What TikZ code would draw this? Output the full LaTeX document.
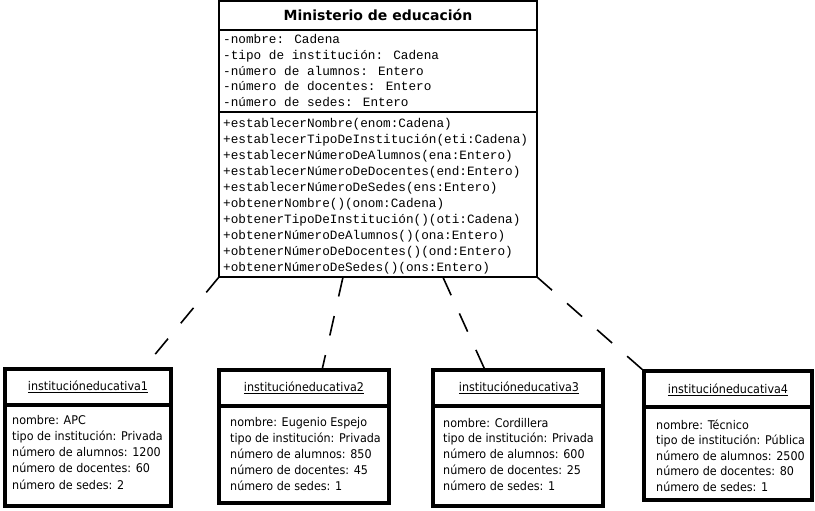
\documentclass[tikz,border=0pt]{standalone}
\usepackage{fontspec}
\setmainfont{DejaVu Sans}
\newfontfamily\monof{Liberation Mono}
\newfontfamily\objf[FakeStretch=0.93]{DejaVu Sans}
\usetikzlibrary{calc}
\begin{document}
\begin{tikzpicture}[x=1pt,y=-1pt,
  classbox/.style={draw, line width=2pt, inner sep=0pt, outer sep=0pt, anchor=north west},
  objbox/.style={draw, line width=4pt, inner sep=0pt, outer sep=0pt, anchor=north west},
  sepline/.style={line width=2pt},
  objsep/.style={line width=4pt},
  monotext/.style={font=\monof\fontsize{12.7}{15}\selectfont, anchor=base west, inner sep=0pt},
  objtext/.style={font=\objf\fontsize{12}{14}\selectfont, anchor=base west, inner sep=0pt},
  objtitle/.style={font=\objf\fontsize{12}{14}\selectfont, inner sep=0pt},
  link/.style={line width=1.6pt, dash pattern=on 20pt off 20pt}
]
\useasboundingbox (0,0) rectangle (815,511);
\fill[white] (0,0) rectangle (815,511);

% ---- class box
\node[classbox, minimum width=318pt, minimum height=276pt] (min) at (219,1) {};
\draw[sepline] (219,30) -- (537,30);
\draw[sepline] (219,112) -- (537,112);
\node[font=\fontsize{14}{16}\selectfont\bfseries, inner sep=0pt] (mtitle) at (378,15.5) {Ministerio de educación};
\foreach \t [count=\i from 0] in {%
  {-nombre: Cadena},
  {-tipo de institución: Cadena},
  {-número de alumnos: Entero},
  {-número de docentes: Entero},
  {-número de sedes: Entero}}
  \node[monotext] (attr\i) at (223,44+15.6*\i) {\t};
\foreach \t [count=\i from 0] in {%
  {+establecerNombre(enom:Cadena)},
  {+establecerTipoDeInstitución(eti:Cadena)},
  {+establecerNúmeroDeAlumnos(ena:Entero)},
  {+establecerNúmeroDeDocentes(end:Entero)},
  {+establecerNúmeroDeSedes(ens:Entero)},
  {+obtenerNombre()(onom:Cadena)},
  {+obtenerTipoDeInstitución()(oti:Cadena)},
  {+obtenerNúmeroDeAlumnos()(ona:Entero)},
  {+obtenerNúmeroDeDocentes()(ond:Entero)},
  {+obtenerNúmeroDeSedes()(ons:Entero)}}
  \node[monotext] (meth\i) at (223,128+15.9*\i) {\t};

% ---- object boxes
% box 1
\node[objbox, minimum width=166pt, minimum height=137pt] (b1) at (5,369) {};
\draw[objsep] (5,405) -- (171,405);
\node[objtitle] (t1) at (88,387) {\underline{institucióneducativa1}};
\foreach \t [count=\i from 0] in {%
  {nombre: APC},
  {tipo de institución: Privada},
  {número de alumnos: 1200},
  {número de docentes: 60},
  {número de sedes: 2}}
  \node[objtext] (o1l\i) at (12,424+16.3*\i) {\t};
% box 2
\node[objbox, minimum width=170pt, minimum height=133pt] (b2) at (219,370) {};
\draw[objsep] (219,406) -- (389,406);
\node[objtitle] (t2) at (304,388) {\underline{institucióneducativa2}};
\foreach \t [count=\i from 0] in {%
  {nombre: Eugenio Espejo},
  {tipo de institución: Privada},
  {número de alumnos: 850},
  {número de docentes: 45},
  {número de sedes: 1}}
  \node[objtext] (o2l\i) at (230,426+16*\i) {\t};
% box 3
\node[objbox, minimum width=170pt, minimum height=136pt] (b3) at (433,370) {};
\draw[objsep] (433,406) -- (603,406);
\node[objtitle] (t3) at (519,388) {\underline{institucióneducativa3}};
\foreach \t [count=\i from 0] in {%
  {nombre: Cordillera},
  {tipo de institución: Privada},
  {número de alumnos: 600},
  {número de docentes: 25},
  {número de sedes: 1}}
  \node[objtext] (o3l\i) at (443,427+15.8*\i) {\t};
% box 4
\node[objbox, minimum width=168pt, minimum height=129pt] (b4) at (644,371) {};
\draw[objsep] (644,407) -- (812,407);
\node[objtitle] (t4) at (728,390) {\underline{institucióneducativa4}};
\foreach \t [count=\i from 0] in {%
  {nombre: Técnico},
  {tipo de institución: Pública},
  {número de alumnos: 2500},
  {número de docentes: 80},
  {número de sedes: 1}}
  \node[objtext] (o4l\i) at (656,429+15.6*\i) {\t};

% ---- connectors
\coordinate (s1) at (min.south west);
\coordinate (s2) at ($(min.south west)!0.390!(min.south east)$);
\coordinate (s3) at ($(min.south west)!0.704!(min.south east)$);
\coordinate (s4) at ($(min.south west)!1.0!(min.south east)$);
\coordinate (e1) at ($(b1.north west)!0.831!(b1.north east)$);
\coordinate (e2) at ($(b2.north west)!0.606!(b2.north east)$);
\coordinate (e3) at ($(b3.north west)!0.306!(b3.north east)$);
\coordinate (e4) at (b4.north west);
\draw[link] (s1) -- (e1);
\draw[link] (s2) -- (e2);
\draw[link] (s3) -- (e3);
\draw[link] (s4) -- (e4);
\end{tikzpicture}
\end{document}
